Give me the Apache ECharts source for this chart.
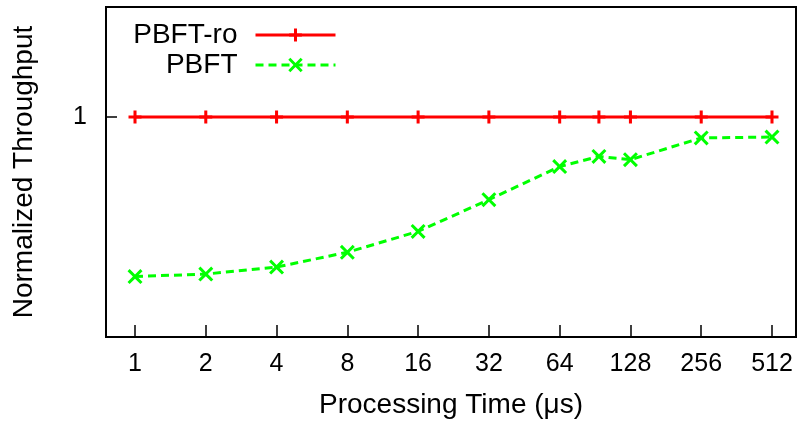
<!DOCTYPE html>
<html>
<head>
<meta charset="utf-8">
<script src="https://cdn.jsdelivr.net/npm/echarts@6/dist/echarts.min.js"></script>
<style>
html,body{margin:0;padding:0;background:#fff;}
#chart{width:801px;height:425px;}
</style>
</head>
<body>
<div id="chart"></div>
<script>
// Data
const processingTimes = [1, 2, 4, 8, 16, 32, 64, 94, 128, 256, 512];
const pbftRo = [1, 1, 1, 1, 1, 1, 1, 1, 1, 1, 1];
const pbft = [0.275, 0.286, 0.318, 0.385, 0.48, 0.624, 0.775, 0.821, 0.806, 0.905, 0.909];
const seriesNames = ['PBFT-ro', 'PBFT'];
const xTitle = 'Processing Time (\u03bcs)';
const yTitle = 'Normalized Throughput';

const FONT = "'Liberation Sans', Arial, Helvetica, sans-serif";
const plusPath = 'path://M4.6,0 H7.4 V4.6 H12 V7.4 H7.4 V12 H4.6 V7.4 H0 V4.6 H4.6 Z';
const crossPath = 'path://M0,1.7 L1.7,0 L6,4.3 L10.3,0 L12,1.7 L7.7,6 L12,10.3 L10.3,12 L6,7.7 L1.7,12 L0,10.3 L4.3,6 Z';

const chart = echarts.init(document.getElementById('chart'), null, {renderer: 'canvas'});
const legendText = {fontSize: 28, color: '#000', fontFamily: FONT, padding: [0, 13, 0, 0]};
const option = {
  animation: false,
  backgroundColor: '#fff',
  textStyle: {fontFamily: FONT},
  grid: {
    left: 106, right: 5, top: 7, bottom: 88,
    show: true, borderColor: '#000', borderWidth: 2, backgroundColor: 'transparent'
  },
  legend: [
    {
      data: [seriesNames[0]], right: 464, top: 21, padding: 0,
      align: 'right', itemWidth: 80, itemHeight: 16,
      lineStyle: {width: 3},
      textStyle: legendText
    },
    {
      data: [seriesNames[1]], right: 464, top: 51, padding: 0,
      align: 'right', itemWidth: 80, itemHeight: 18,
      lineStyle: {width: 3},
      textStyle: legendText
    }
  ],
  xAxis: {
    type: 'log',
    logBase: 2,
    min: 0.7527,
    max: 647.7,
    splitNumber: 10,
    name: xTitle,
    nameLocation: 'middle',
    nameGap: 54,
    nameTextStyle: {fontSize: 28, color: '#000', fontFamily: FONT},
    axisLine: {show: true, lineStyle: {color: '#000', width: 2}},
    axisTick: {show: true, inside: true, length: 12, lineStyle: {color: '#000', width: 1.5}},
    axisLabel: {show: true, fontSize: 25, color: '#000', margin: 15, fontFamily: FONT,
      showMinLabel: false, showMaxLabel: false},
    splitLine: {show: false}
  },
  yAxis: {
    type: 'value',
    min: 0,
    max: 1.5,
    interval: 1,
    name: yTitle,
    nameLocation: 'middle',
    nameGap: 68,
    nameTextStyle: {fontSize: 28, color: '#000', fontFamily: FONT},
    axisLine: {show: true, lineStyle: {color: '#000', width: 2}},
    axisTick: {show: true, inside: true, length: 11, lineStyle: {color: '#000', width: 1.5}},
    axisLabel: {show: true, fontSize: 25, color: '#000', margin: 19, fontFamily: FONT,
      showMinLabel: false, showMaxLabel: false},
    splitLine: {show: false}
  },
  series: [
    {
      name: seriesNames[0],
      type: 'line',
      data: processingTimes.map((x, i) => [x, pbftRo[i]]),
      symbol: plusPath,
      symbolSize: 13,
      showAllSymbol: true,
      lineStyle: {color: '#ff0000', width: 3, type: 'solid'},
      itemStyle: {color: '#ff0000'},
      z: 3
    },
    {
      name: seriesNames[1],
      type: 'line',
      data: processingTimes.map((x, i) => [x, pbft[i]]),
      symbol: crossPath,
      symbolSize: 15,
      showAllSymbol: true,
      lineStyle: {color: '#00ff00', width: 3, type: [8, 5]},
      itemStyle: {color: '#00ff00'},
      z: 2
    }
  ]
};
chart.setOption(option);
</script>
</body>
</html>
